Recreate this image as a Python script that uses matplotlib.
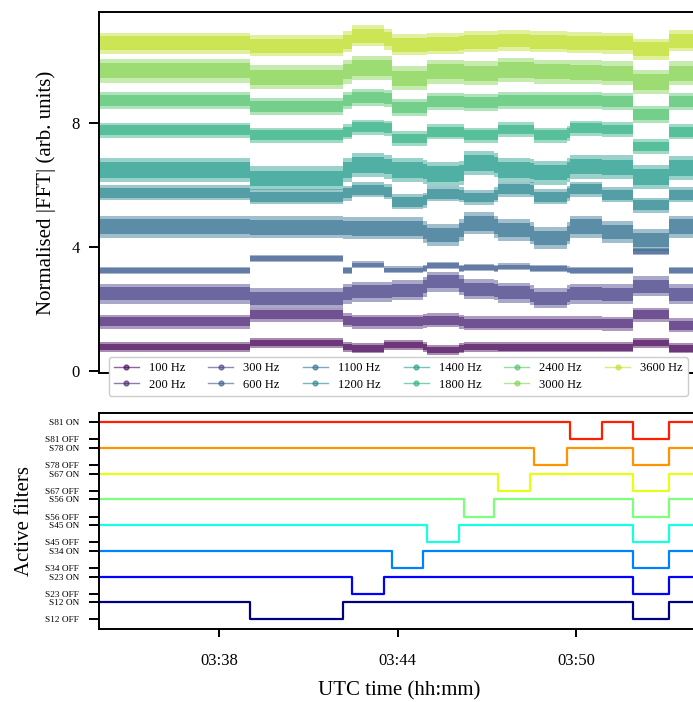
import matplotlib
matplotlib.use('Agg')
import numpy as np
import pandas as pd
import matplotlib.pyplot as plt
import matplotlib.dates as mdates
from matplotlib.lines import Line2D

plt.rcParams['font.family'] = ['Liberation Serif', 'DejaVu Serif']
plt.rcParams['axes.linewidth'] = 1.4

DAY = '2021-01-01 '

# ---------------- data ----------------
t_start = '03:33:57'
t_end = '03:54:10'

# start of each segment of constant filter configuration
seg_starts = ['03:33:57', '03:39:02', '03:42:09', '03:42:28', '03:43:33', '03:43:48',
              '03:44:50', '03:45:00', '03:46:03', '03:46:13', '03:47:15', '03:47:23',
              '03:48:27', '03:48:35', '03:49:41', '03:49:47', '03:50:52', '03:51:55',
              '03:53:07']

freq_labels = ['100 Hz', '200 Hz', '300 Hz', '600 Hz', '1100 Hz', '1200 Hz',
               '1400 Hz', '1800 Hz', '2400 Hz', '3000 Hz', '3600 Hz']

lvl_100 = [0.77, 0.90, 0.77, 0.72, 0.83, 0.83, 0.77, 0.67, 0.72, 0.77, 0.77, 0.75,
           0.75, 0.75, 0.75, 0.75, 0.75, 0.90, 0.72]
lvl_200 = [1.58, 1.80, 1.63, 1.58, 1.58, 1.58, 1.61, 1.63, 1.58, 1.53, 1.53, 1.53,
           1.53, 1.53, 1.53, 1.53, 1.51, 1.80, 1.47]
lvl_300 = [2.49, 2.33, 2.49, 2.55, 2.55, 2.60, 2.71, 2.87, 2.76, 2.62, 2.60, 2.52,
           2.44, 2.33, 2.44, 2.49, 2.47, 2.73, 2.47]
lvl_600 = [3.23, 3.62, 3.23, 3.41, 3.25, 3.25, 3.30, 3.39, 3.30, 3.32, 3.30, 3.35,
           3.30, 3.30, 3.25, 3.23, 3.23, 3.84, 3.23]
lvl_1100 = [4.65, 4.62, 4.61, 4.59, 4.59, 4.59, 4.48, 4.38, 4.54, 4.75, 4.65, 4.54,
            4.43, 4.27, 4.43, 4.65, 4.48, 4.22, 4.65]
lvl_1200 = [5.74, 5.61, 5.72, 5.83, 5.77, 5.45, 5.50, 5.70, 5.67, 5.59, 5.67, 5.86,
            5.83, 5.61, 5.72, 5.86, 5.67, 5.34, 5.67]
lvl_1400 = [6.47, 6.20, 6.47, 6.63, 6.58, 6.47, 6.42, 6.34, 6.37, 6.69, 6.63, 6.47,
            6.45, 6.39, 6.47, 6.58, 6.56, 6.24, 6.53]
lvl_1800 = [7.76, 7.60, 7.71, 7.85, 7.82, 7.49, 7.49, 7.71, 7.71, 7.60, 7.60, 7.78,
            7.78, 7.60, 7.66, 7.82, 7.78, 7.23, 7.71]
lvl_2400 = [8.73, 8.52, 8.73, 8.82, 8.78, 8.49, 8.49, 8.68, 8.68, 8.65, 8.65, 8.73,
            8.73, 8.71, 8.71, 8.70, 8.68, 8.25, 8.68]
lvl_3000 = [9.68, 9.46, 9.65, 9.76, 9.76, 9.43, 9.43, 9.65, 9.65, 9.59, 9.59, 9.70,
            9.70, 9.65, 9.65, 9.62, 9.59, 9.32, 9.59]
lvl_3600 = [10.56, 10.48, 10.61, 10.80, 10.69, 10.51, 10.51, 10.54, 10.56, 10.61,
            10.61, 10.65, 10.61, 10.61, 10.58, 10.58, 10.56, 10.37, 10.64]

filters = ['S12', 'S23', 'S34', 'S45', 'S56', 'S67', 'S78', 'S81']
off_times = [['03:39:02', '03:51:55'], ['03:42:28', '03:51:55'], ['03:43:48', '03:51:55'],
             ['03:45:00', '03:51:55'], ['03:46:13', '03:51:55'], ['03:47:23', '03:51:55'],
             ['03:48:35', '03:51:55'], ['03:49:47', '03:51:55']]
on_times = [['03:42:09', '03:53:07'], ['03:43:33', '03:53:07'], ['03:44:50', '03:53:07'],
            ['03:46:03', '03:53:07'], ['03:47:15', '03:53:07'], ['03:48:27', '03:53:07'],
            ['03:49:41', '03:53:07'], ['03:50:52', '03:53:07']]

# ---------------- style ----------------
band_px = [10, 14, 20, 7, 22, 15, 24, 15, 17, 24, 21]   # visual thickness of each noisy trace


def T(s):
    return pd.Timestamp(DAY + s)


levels = [lvl_100, lvl_200, lvl_300, lvl_600, lvl_1100, lvl_1200, lvl_1400,
          lvl_1800, lvl_2400, lvl_3000, lvl_3600]

fig = plt.figure(figsize=(6.93, 7.02), dpi=100)
W, H = 693.0, 702.0
ax1 = fig.add_axes([99 / W, 1 - 373 / H, 601 / W, (373 - 12.3) / H])
ax2 = fig.add_axes([99 / W, 1 - 629.3 / H, 601 / W, (629.3 - 412.7) / H])

ax1.set_xlim(T(t_start), T(t_end))
ax1.set_ylim(-0.074, 11.56)
px_per_unit = (373 - 12.3) / (11.56 + 0.074)

vcols = plt.cm.viridis(np.linspace(0, 0.9, len(levels)))
xs = [T(s) for s in seg_starts] + [T(t_end)]
handles = []
for i, lv in enumerate(levels):
    ys = np.array(list(lv) + [lv[-1]])
    hw = band_px[i] / 2.0 / px_per_unit
    ax1.fill_between(xs, ys - hw, ys + hw, step='post', color=vcols[i],
                     alpha=0.45, lw=0)
    ax1.fill_between(xs, ys - 0.65 * hw, ys + 0.65 * hw, step='post', color=vcols[i],
                     alpha=0.6, lw=0)
    handles.append(Line2D([], [], color=vcols[i], marker='o', ms=3.5, lw=1.0,
                          alpha=0.6, label=freq_labels[i]))

ax1.set_yticks([0, 4, 8])
ax1.set_ylabel('Normalised |FFT| (arb. units)', fontsize=15, labelpad=11)
ax1.tick_params(axis='both', direction='out', length=7, width=1.4, labelsize=12, pad=7)
ax1.tick_params(axis='x', labelbottom=False)
ax1.spines['right'].set_visible(False)
leg = ax1.legend(handles=handles, ncol=6, loc='upper center',
                 bbox_to_anchor=(0.498, 0.044), borderaxespad=0, fontsize=9,
                 framealpha=1, edgecolor='0.8', columnspacing=1.85,
                 handletextpad=0.8, labelspacing=0.35)

jcols = plt.cm.jet(np.arange(len(filters)) / 8.0)
ticks, tlabels = [], []
for k, name in enumerate(filters):
    off_v, on_v = 1.5 * k, 1.5 * k + 1
    ev = sorted([(T(s), off_v) for s in off_times[k]] + [(T(s), on_v) for s in on_times[k]])
    tx = [T(t_start)] + [e[0] for e in ev] + [T(t_end)]
    ty = [on_v] + [e[1] for e in ev] + [ev[-1][1]]
    ax2.step(tx, ty, where='post', color=jcols[k], lw=1.6)
    ticks += [off_v, on_v]
    tlabels += [name + ' OFF', name + ' ON']

ax2.set_xlim(T(t_start), T(t_end))
ax2.set_ylim(-0.58, 12.06)
ax2.set_yticks(ticks)
ax2.set_yticklabels(tlabels, fontsize=6.7)
ax2.spines['right'].set_visible(False)
ax2.xaxis.set_major_locator(mdates.MinuteLocator(byminute=[38, 44, 50]))
ax2.xaxis.set_major_formatter(mdates.DateFormatter('%H:%M'))
ax2.tick_params(axis='both', direction='out', length=7, width=1.4, pad=7.5)
ax2.tick_params(axis='x', labelsize=12, length=6, pad=11)
ax2.set_xlabel('UTC time (hh:mm)', fontsize=15, labelpad=9)
ax2.set_ylabel('Active filters', fontsize=15, labelpad=8)

fig.savefig('out.png', dpi=100)
